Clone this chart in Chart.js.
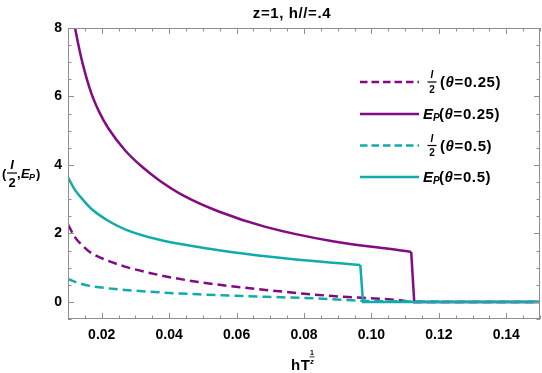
<!DOCTYPE html>
<html>
<head>
<meta charset="utf-8">
<script src="https://cdn.jsdelivr.net/npm/chart.js@4"></script>
<style>
  html, body { margin: 0; padding: 0; background: #fff; }
  canvas { display: block; }
</style>
</head>
<body>
<canvas id="c" width="542" height="373"></canvas>
<script>
// E_P, theta = 0.25
const xEpA = [0.0121, 0.013, 0.0145, 0.0169, 0.0194, 0.0219, 0.0269, 0.0318, 0.0368, 0.0447, 0.0547, 0.0686, 0.0885, 0.1083, 0.1118, 0.1127, 0.15]
const yEpA = [8.0, 7.55, 6.9, 6.1, 5.52, 5.08, 4.43, 3.96, 3.57, 3.08, 2.64, 2.19, 1.77, 1.51, 1.46, 0, 0]
// I/2, theta = 0.25
const xIA = [0.01, 0.012, 0.015, 0.0169, 0.0219, 0.0269, 0.0368, 0.0487, 0.0686, 0.0885, 0.1083, 0.1125, 0.15]
const yIA = [2.26, 1.9, 1.58, 1.43, 1.2, 1.03, 0.79, 0.58, 0.35, 0.17, 0.05, 0, 0]
// E_P, theta = 0.5
const xEpB = [0.01, 0.012, 0.015, 0.0169, 0.0219, 0.0269, 0.0368, 0.0487, 0.0547, 0.0686, 0.0885, 0.0967, 0.0975, 0.15]
const yEpB = [3.64, 3.28, 2.92, 2.72, 2.37, 2.12, 1.82, 1.6, 1.51, 1.33, 1.14, 1.08, 0, 0]
// I/2, theta = 0.5
const xIB = [0.01, 0.0125, 0.015, 0.0169, 0.0269, 0.0368, 0.0487, 0.0686, 0.0885, 0.0975, 0.15]
const yIB = [0.67, 0.57, 0.5, 0.46, 0.35, 0.28, 0.22, 0.15, 0.08, 0.03, 0]

const xTicks = [0.02, 0.04, 0.06, 0.08, 0.10, 0.12, 0.14]
const yTicks = [0, 2, 4, 6, 8]
const thetaLabels = ['0.25', '0.5']

const PURPLE = '#820a82'
const TEAL = '#12abab'
const FONT = '"Liberation Sans", Arial, sans-serif'

const pts = (xs, ys) => xs.map((x, i) => ({ x, y: ys[i] }))
// index of the last point before the jump down to zero
const dropAt = ys => ys.findIndex((y, i) => y > 0 && ys[i + 1] === 0)

// Frame, inward ticks, title, axis labels and legend (Mathematica style)
const framePlugin = {
  id: 'frame',
  afterDatasetsDraw(chart) {
    const { ctx, chartArea: a, scales } = chart
    ctx.save()
    ctx.strokeStyle = '#8e8e8e'
    ctx.lineWidth = 1
    ctx.strokeRect(a.left + 0.5, a.top + 0.5, a.right - a.left - 1, a.bottom - a.top - 1)

    ctx.beginPath()
    for (let i = 0; i <= 28; i++) {
      const v = 0.01 + i * 0.005
      const x = Math.round(scales.x.getPixelForValue(v)) + 0.5
      const len = xTicks.some(t => Math.abs(t - v) < 1e-6) ? 6 : 3.5
      ctx.moveTo(x, a.bottom); ctx.lineTo(x, a.bottom - len)
      ctx.moveTo(x, a.top); ctx.lineTo(x, a.top + len)
    }
    for (let i = 0; i <= 17; i++) {
      const v = -0.5 + i * 0.5
      const y = Math.round(scales.y.getPixelForValue(v)) + 0.5
      const len = yTicks.includes(v) ? 6 : 3.5
      ctx.moveTo(a.left, y); ctx.lineTo(a.left + len, y)
      ctx.moveTo(a.right, y); ctx.lineTo(a.right - len, y)
    }
    ctx.stroke()
    ctx.restore()
  },
  afterDraw(chart) {
    const ctx = chart.ctx
    ctx.save()
    ctx.fillStyle = '#000'
    ctx.textBaseline = 'alphabetic'
    ctx.letterSpacing = '0.6px'

    // title
    ctx.font = `bold 15px ${FONT}`
    ctx.textAlign = 'center'
    ctx.fillText('z=1, h//=.4', 292, 18)

    // x axis label: hT^(1/z)
    ctx.font = `bold 15px ${FONT}`
    ctx.textAlign = 'left'
    ctx.fillText('hT', 291, 370)
    ctx.letterSpacing = '0px'
    ctx.font = `bold 7px ${FONT}`
    ctx.textAlign = 'center'
    ctx.fillText('1', 312, 355)
    ctx.font = `bold italic 7px ${FONT}`
    ctx.fillText('z', 312, 364)
    ctx.fillRect(309.5, 356.5, 5, 0.8)

    // y axis label: (I/2, E_P)
    fraction(ctx, 12, 173, 10, 13)
    ctx.font = `bold 13px ${FONT}`
    ctx.textAlign = 'left'
    ctx.fillText('(', 2, 178)
    ctx.fillText(',', 17, 178)
    ctx.font = `bold italic 13px ${FONT}`
    ctx.fillText('E', 21, 178)
    ctx.font = `bold italic 9px ${FONT}`
    ctx.fillText('P', 29, 180)
    ctx.font = `bold 13px ${FONT}`
    ctx.fillText(')', 36, 178)

    // legend
    const rows = [
      { y: 82, color: PURPLE, dash: [7.5, 4], ep: false, th: thetaLabels[0] },
      { y: 114, color: PURPLE, dash: [], ep: true, th: thetaLabels[0] },
      { y: 145.5, color: TEAL, dash: [7.5, 4], ep: false, th: thetaLabels[1] },
      { y: 177, color: TEAL, dash: [], ep: true, th: thetaLabels[1] },
    ]
    rows.forEach(r => {
      ctx.save()
      ctx.strokeStyle = r.color
      ctx.lineWidth = 2.5
      ctx.setLineDash(r.dash)
      ctx.beginPath()
      ctx.moveTo(360, r.y)
      ctx.lineTo(419, r.y)
      ctx.stroke()
      ctx.restore()

      let x
      ctx.textAlign = 'left'
      if (r.ep) {
        ctx.font = `bold italic 15px ${FONT}`
        ctx.fillText('E', 423, r.y + 5)
        ctx.font = `bold italic 10px ${FONT}`
        ctx.fillText('P', 433, r.y + 7)
        x = 439
      } else {
        fraction(ctx, 432, r.y, 9, 10)
        x = 440
      }
      ctx.textAlign = 'left'
      ctx.letterSpacing = '0.6px'
      ctx.font = `bold 15px ${FONT}`
      ctx.fillText('(', x, r.y + 5)
      x += ctx.measureText('(').width
      ctx.font = `bold italic 15px ${FONT}`
      ctx.fillText('\u03b8', x, r.y + 5)
      x += ctx.measureText('\u03b8').width
      ctx.font = `bold 15px ${FONT}`
      ctx.fillText('=' + r.th + ')', x, r.y + 5)
      ctx.letterSpacing = '0px'
    })
    ctx.restore()
  }
}

// stacked "I over 2" centred on (cx, cy)
function fraction(ctx, cx, cy, w, size) {
  ctx.textAlign = 'center'
  ctx.font = `bold italic ${size}px ${FONT}`
  ctx.fillText('I', cx, cy - 4)
  ctx.fillRect(cx - w / 2, cy - 0.6, w, 1.2)
  ctx.font = `bold ${size}px ${FONT}`
  ctx.fillText('2', cx, cy + size + 0.5)
}

const line = (label, data, color, dash, order, smooth = true) => ({
  label, data, order,
  borderColor: color,
  borderWidth: 2.5,
  borderDash: dash,
  pointRadius: 0,
  fill: false,
  tension: 0,
  cubicInterpolationMode: smooth ? 'monotone' : 'default',
})

const epA = pts(xEpA, yEpA), kA = dropAt(yEpA)
const epB = pts(xEpB, yEpB), kB = dropAt(yEpB)

const tickFont = { family: FONT, size: 14, weight: 'bold' }

new Chart(document.getElementById('c'), {
  type: 'line',
  plugins: [framePlugin],
  data: {
    datasets: [
      line('I/2 (θ=0.25)', pts(xIA, yIA), PURPLE, [9, 5], 5),
      line('E_P(θ=0.25)', epA.slice(0, kA + 1), PURPLE, [], 4),
      line('E_P(θ=0.25) drop', epA.slice(kA), PURPLE, [], 4, false),
      line('I/2 (θ=0.5)', pts(xIB, yIB), TEAL, [9, 5], 3),
      line('E_P(θ=0.5)', epB.slice(0, kB + 1), TEAL, [], 1),
      line('E_P(θ=0.5) drop', epB.slice(kB), TEAL, [], 1, false),
    ]
  },
  options: {
    responsive: false,
    animation: false,
    events: [],
    layout: { padding: { top: 28, right: 2, left: 0, bottom: 0 } },
    scales: {
      x: {
        type: 'linear',
        min: 0.01,
        max: 0.15,
        grid: { display: false, drawTicks: false },
        border: { display: false },
        afterFit: s => { s.height = 54 },
        afterBuildTicks: s => { s.ticks = xTicks.map(v => ({ value: v })) },
        ticks: {
          color: '#000',
          padding: 8,
          maxRotation: 0,
          font: tickFont,
          callback: v => v.toFixed(2),
        },
      },
      y: {
        type: 'linear',
        min: -0.5,
        max: 8,
        grid: { display: false, drawTicks: false },
        border: { display: false },
        afterFit: s => { s.width = 68 },
        afterBuildTicks: s => { s.ticks = yTicks.map(v => ({ value: v })) },
        ticks: {
          color: '#000',
          padding: 6,
          font: tickFont,
        },
      },
    },
    plugins: {
      legend: { display: false },
      tooltip: { enabled: false },
    },
  },
})
</script>
</body>
</html>
